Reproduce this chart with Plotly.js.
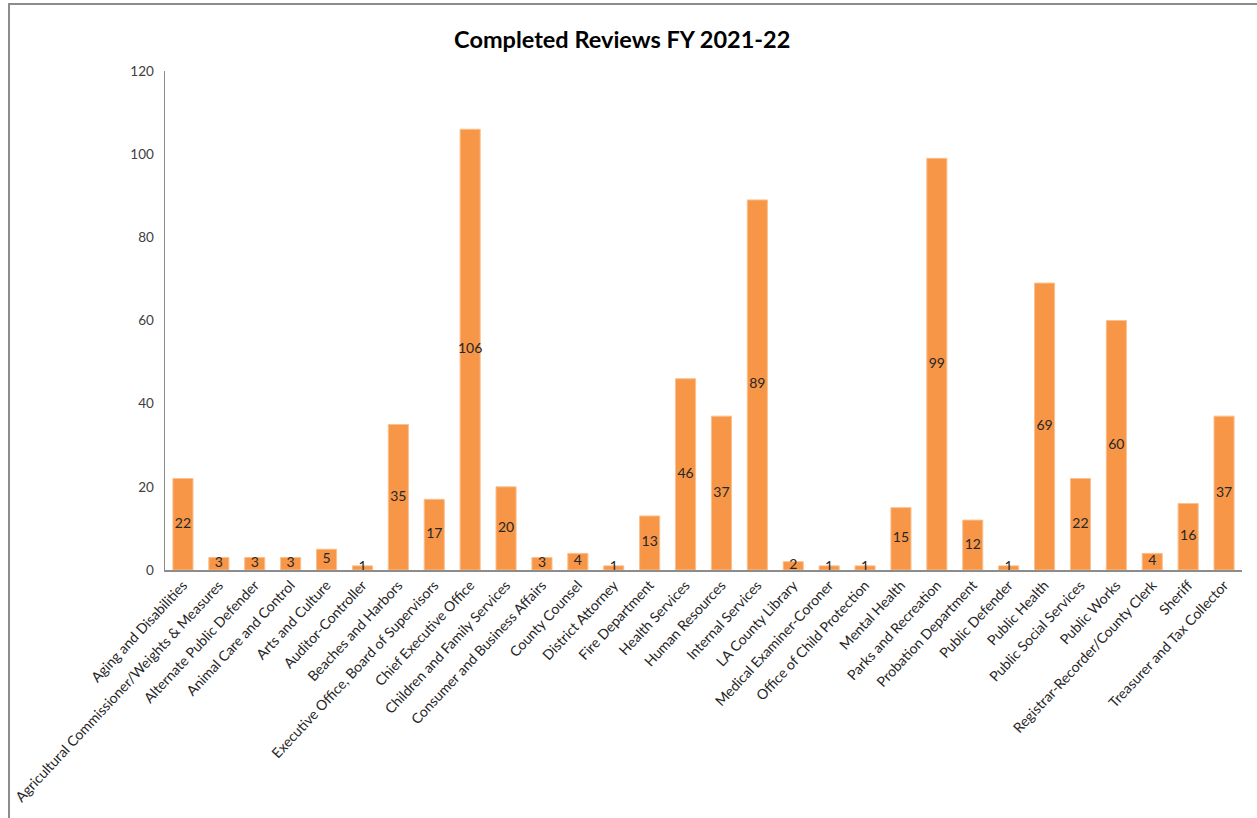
<!DOCTYPE html>
<html>
<head>
<meta charset="utf-8">
<script src="https://cdn.plot.ly/plotly-3.0.1.min.js"></script>
<style>
  html, body { margin: 0; padding: 0; background: #fff; overflow: hidden; }
  #frame { position: absolute; left: 8px; top: 3px; width: 1260px; height: 830px;
           border-top: 2px solid #8c8c8c; border-left: 2px solid #8c8c8c; }
  #chart { position: absolute; left: 0; top: 0; width: 1257px; height: 818px; }
</style>
</head>
<body>
<div id="frame"></div>
<div id="chart"></div>
<script>
const departments = [
  "Aging and Disabilities",
  "Agricultural Commissioner/Weights & Measures",
  "Alternate Public Defender",
  "Animal Care and Control",
  "Arts and Culture",
  "Auditor-Controller",
  "Beaches and Harbors",
  "Executive Office, Board of Supervisors",
  "Chief Executive Office",
  "Children and Family Services",
  "Consumer and Business Affairs",
  "County Counsel",
  "District Attorney",
  "Fire Department",
  "Health Services",
  "Human Resources",
  "Internal Services",
  "LA County Library",
  "Medical Examiner-Coroner",
  "Office of Child Protection",
  "Mental Health",
  "Parks and Recreation",
  "Probation Department",
  "Public Defender",
  "Public Health",
  "Public Social Services",
  "Public Works",
  "Registrar-Recorder/County Clerk",
  "Sheriff",
  "Treasurer and Tax Collector"
];
const completedReviews = [22, 3, 3, 3, 5, 1, 35, 17, 106, 20, 3, 4, 1, 13, 46, 37, 89, 2, 1, 1, 15, 99, 12, 1, 69, 22, 60, 4, 16, 37];
const yTicks = [0, 20, 40, 60, 80, 100, 120];
const chartTitle = "Completed Reviews FY 2021-22";

const FONT = "Lato, 'Open Sans', 'Noto Sans', sans-serif";

const bars = {
  type: "bar",
  x: departments,
  y: completedReviews,
  marker: { color: "#F79646", line: { color: "#FAC090", width: 1 } },
  hoverinfo: "x+y",
  showlegend: false
};
const labels = {
  type: "scatter",
  mode: "text",
  x: departments,
  y: completedReviews.map(v => v / 2),
  text: completedReviews.map(String),
  textposition: "middle center",
  textfont: { family: FONT, size: 14, color: "#262626" },
  hoverinfo: "skip",
  showlegend: false,
  cliponaxis: false
};

const layout = {
  width: 1257,
  height: 818,
  paper_bgcolor: "rgba(0,0,0,0)",
  plot_bgcolor: "rgba(0,0,0,0)",
  margin: { l: 165, r: 15, t: 71, b: 248, pad: 0 },
  bargap: 0.44,
  title: {
    text: "<b>" + chartTitle + "</b>",
    font: { family: FONT, size: 23.5, color: "#000" },
    x: 0.495, xanchor: "center", xref: "container",
    y: 0.951, yanchor: "middle", yref: "container"
  },
  font: { family: FONT, color: "#404040" },
  xaxis: {
    type: "category",
    range: [-0.5, departments.length - 0.5],
    autorange: false,
    tickangle: -47,
    tickfont: { family: FONT, size: 14.1, color: "#262626" },
    showline: true, linecolor: "#8c8c8c", linewidth: 1.5,
    ticks: "", showgrid: false, zeroline: false,
    automargin: false
  },
  yaxis: {
    range: [0, 120],
    autorange: false,
    tickvals: yTicks,
    ticktext: yTicks.map(String),
    tickfont: { family: FONT, size: 13.5, color: "#404040" },
    showline: true, linecolor: "#8c8c8c", linewidth: 1.5,
    ticks: "", ticklabelstandoff: 7,
    showgrid: false, zeroline: false,
    automargin: false
  }
};

Plotly.newPlot("chart", [bars, labels], layout, { displayModeBar: false, staticPlot: true });
</script>
</body>
</html>
